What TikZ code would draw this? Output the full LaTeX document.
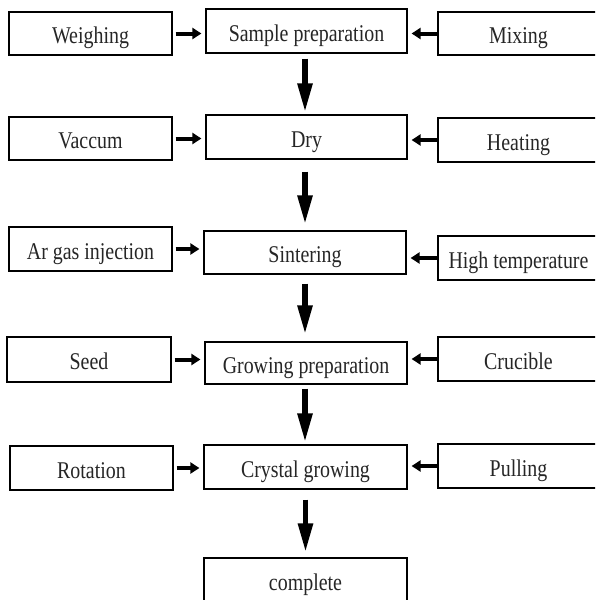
\documentclass[tikz,border=0pt]{standalone}
\usepackage{fontspec}
\setmainfont{Liberation Serif}[FakeStretch=0.83]
\usetikzlibrary{arrows.meta}
\tikzset{
  box/.style={draw=black, line width=1.2pt, fill=white, inner sep=0pt,
    text height=20.5pt, text depth=0.5pt,
    font=\fontsize{24}{27}\selectfont, text=black!85},
  harrow/.style={line width=4pt, -{Triangle[length=9pt,width=11pt]}},
  varrow/.style={line width=5.5pt, -{Triangle[length=29pt,width=14pt]}}
}
\newcommand{\bx}[7]{% name, x1, x2, y1, y2, text
  \node[box, minimum width={(#3-#2)*1pt}, minimum height={(#5-#4)*1pt}]
    (#1) at ({(#2+#3)/2},{(#4+#5)/2}) {#6#7};}
\begin{document}
\begin{tikzpicture}[x=1pt,y=-1pt]
\fill[white] (0,0) rectangle (595,600);
\useasboundingbox (0,0) rectangle (595,600);
\clip (0,0) rectangle (595,600);
% row 1
\bx{w1}{9}{172}{12}{55}{Weighing}{}
\bx{s1}{206}{407}{9}{53}{Sample preparation}{}
\bx{m1}{438}{599}{12}{55}{Mixing}{}
% row 2
\bx{v2}{9}{172}{117}{160}{Vaccum}{}
\bx{d2}{206}{407}{115}{159}{Dry}{}
\bx{h2}{438}{599}{118}{162}{Heating}{}
% row 3
\bx{a3}{9}{172}{227}{271}{Ar gas injection}{}
\bx{s3}{204}{406}{231}{274}{Sintering}{}
\bx{h3}{438}{599}{236}{280}{High temperature}{}
% row 4
\bx{s4}{7}{171}{337}{382}{Seed}{}
\bx{g4}{205}{407}{342}{384}{Growing preparation}{}
\bx{c4}{438}{599}{337}{381}{Crucible}{}
% row 5
\bx{r5}{10}{173}{446}{490}{Rotation}{}
\bx{c5}{204}{407}{445}{489}{Crystal growing}{}
\bx{p5}{438}{599}{444}{488}{Pulling}{}
% final
\bx{f6}{204}{407}{558}{602}{complete}{}
% horizontal arrows
\draw[harrow, shorten <=3pt, shorten >=4pt] (w1.east) -- (w1.east -| s1.west);
\draw[harrow, shorten >=4pt] (m1.west) -- (m1.west -| s1.east);
\draw[harrow, shorten <=3pt, shorten >=4pt] (v2.east) -- (v2.east -| d2.west);
\draw[harrow, shorten >=4pt] (h2.west) -- (h2.west -| d2.east);
\draw[harrow, shorten <=3pt, shorten >=4pt] (a3.east) -- (a3.east -| s3.west);
\draw[harrow, shorten >=4pt] (h3.west) -- (h3.west -| s3.east);
\draw[harrow, shorten <=3pt, shorten >=4pt] (s4.east) -- (s4.east -| g4.west);
\draw[harrow, shorten >=4pt] (c4.west) -- (c4.west -| g4.east);
\draw[harrow, shorten <=3pt, shorten >=4pt] (r5.east) -- (r5.east -| c5.west);
\draw[harrow, shorten >=4pt] (p5.west) -- (p5.west -| c5.east);
% vertical arrows
\draw[varrow, shorten <=5pt, shorten >=2pt] ([xshift=-1.5pt]s1.south) -- ([xshift=-1.5pt]s1.south |- d2.north);
\draw[varrow, shorten <=12pt, shorten >=6pt] ([xshift=-1.5pt]d2.south) -- ([xshift=-1.5pt]d2.south |- s3.north);
\draw[varrow, shorten <=9pt, shorten >=7pt] (s3.south) -- (s3.south |- g4.north);
\draw[varrow, shorten <=4pt, shorten >=2pt] ([xshift=-1pt]g4.south) -- ([xshift=-1pt]g4.south |- c5.north);
\draw[varrow, shorten <=10pt, shorten >=5pt] (c5.south) -- (c5.south |- f6.north);
\end{tikzpicture}
\end{document}
